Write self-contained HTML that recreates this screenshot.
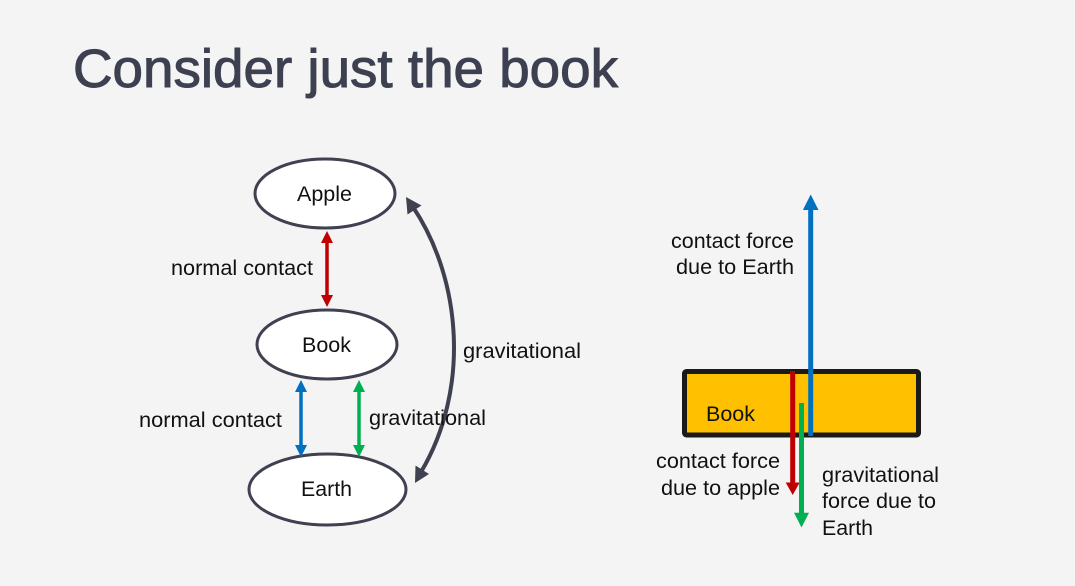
<!DOCTYPE html>
<html>
<head>
<meta charset="utf-8">
<style>
  html,body{margin:0;padding:0;background:#f4f4f4;}
  body{width:1075px;height:586px;overflow:hidden;}
  svg{display:block;}
  text{font-family:"Liberation Sans",Arial,sans-serif;}
</style>
</head>
<body>
<svg width="1075" height="586" viewBox="0 0 1075 586" xmlns="http://www.w3.org/2000/svg">
  <rect x="0" y="0" width="1075" height="586" fill="#f4f4f4"/>

  <!-- Title -->
  <text x="73" y="87" font-size="53.5" fill="#3d4050" stroke="#3d4050" stroke-width="1" textLength="545" lengthAdjust="spacingAndGlyphs">Consider just the book</text>

  <!-- Left diagram: ellipses -->
  <ellipse cx="325" cy="193.5" rx="70" ry="34.5" fill="#ffffff" stroke="#3f4150" stroke-width="3"/>
  <ellipse cx="327" cy="344.5" rx="70" ry="34.5" fill="#ffffff" stroke="#3f4150" stroke-width="3"/>
  <ellipse cx="327.5" cy="489.5" rx="78.5" ry="35.5" fill="#ffffff" stroke="#3f4150" stroke-width="3"/>

  <text x="297" y="201" font-size="21.5" fill="#111" textLength="55" lengthAdjust="spacingAndGlyphs">Apple</text>
  <text x="302" y="352" font-size="21.5" fill="#111" textLength="49" lengthAdjust="spacingAndGlyphs">Book</text>
  <text x="301" y="496" font-size="21.5" fill="#111" textLength="51" lengthAdjust="spacingAndGlyphs">Earth</text>

  <!-- Red double arrow -->
  <line x1="327" y1="240" x2="327" y2="298" stroke="#C00000" stroke-width="3.5"/>
  <polygon points="327,231 333,243 321,243" fill="#C00000"/>
  <polygon points="327,307 333,295 321,295" fill="#C00000"/>

  <!-- Blue double arrow -->
  <line x1="301" y1="389" x2="301" y2="448" stroke="#0070C0" stroke-width="3.5"/>
  <polygon points="301,380 307,392 295,392" fill="#0070C0"/>
  <polygon points="301,457 307,445 295,445" fill="#0070C0"/>

  <!-- Green double arrow -->
  <line x1="359" y1="389" x2="359" y2="448" stroke="#00B050" stroke-width="3.5"/>
  <polygon points="359,380 365,392 353,392" fill="#00B050"/>
  <polygon points="359,457 365,445 353,445" fill="#00B050"/>

  <!-- Curved gravitational arrow -->
  <path d="M 413,207 C 462,280 470,390 421,472" fill="none" stroke="#3f4150" stroke-width="4"/>
  <polygon points="406,197 407.5,214.5 421.5,205.5" fill="#3f4150"/>
  <polygon points="415,483 429,474 415.5,465.5" fill="#3f4150"/>

  <!-- Left labels -->
  <text x="171" y="275" font-size="21.5" fill="#111" textLength="142" lengthAdjust="spacingAndGlyphs">normal contact</text>
  <text x="463" y="358" font-size="21.5" fill="#111" textLength="118" lengthAdjust="spacingAndGlyphs">gravitational</text>
  <text x="139" y="427" font-size="21.5" fill="#111" textLength="143" lengthAdjust="spacingAndGlyphs">normal contact</text>
  <text x="369" y="425" font-size="21.5" fill="#111" textLength="117" lengthAdjust="spacingAndGlyphs">gravitational</text>

  <!-- Right diagram -->
  <rect x="684.5" y="371.5" width="234" height="63.5" rx="2" fill="#FFC000" stroke="#1a1a1a" stroke-width="5"/>
  <text x="706" y="421" font-size="21.5" fill="#111" textLength="49" lengthAdjust="spacingAndGlyphs">Book</text>

  <!-- Red arrow down -->
  <line x1="792.7" y1="371" x2="792.7" y2="484" stroke="#C00000" stroke-width="5"/>
  <polygon points="792.7,495 799.7,482.5 785.7,482.5" fill="#C00000"/>

  <!-- Green arrow down -->
  <line x1="801.5" y1="403" x2="801.5" y2="514" stroke="#00B050" stroke-width="5"/>
  <polygon points="801.5,527.5 809,512.8 794,512.8" fill="#00B050"/>

  <!-- Blue arrow up -->
  <line x1="810.7" y1="436" x2="810.7" y2="208" stroke="#0070C0" stroke-width="5"/>
  <polygon points="810.7,194.5 818.5,210 802.9,210" fill="#0070C0"/>

  <!-- Right labels -->
  <text x="671" y="248" font-size="21.5" fill="#111" textLength="123" lengthAdjust="spacingAndGlyphs">contact force</text>
  <text x="676" y="274" font-size="21.5" fill="#111" textLength="118" lengthAdjust="spacingAndGlyphs">due to Earth</text>

  <text x="656" y="468" font-size="21.5" fill="#111" textLength="124" lengthAdjust="spacingAndGlyphs">contact force</text>
  <text x="661" y="495" font-size="21.5" fill="#111" textLength="119" lengthAdjust="spacingAndGlyphs">due to apple</text>

  <text x="822" y="482" font-size="21.5" fill="#111" textLength="117" lengthAdjust="spacingAndGlyphs">gravitational</text>
  <text x="822" y="508" font-size="21.5" fill="#111" textLength="114" lengthAdjust="spacingAndGlyphs">force due to</text>
  <text x="822" y="535" font-size="21.5" fill="#111" textLength="51" lengthAdjust="spacingAndGlyphs">Earth</text>
</svg>
</body>
</html>
